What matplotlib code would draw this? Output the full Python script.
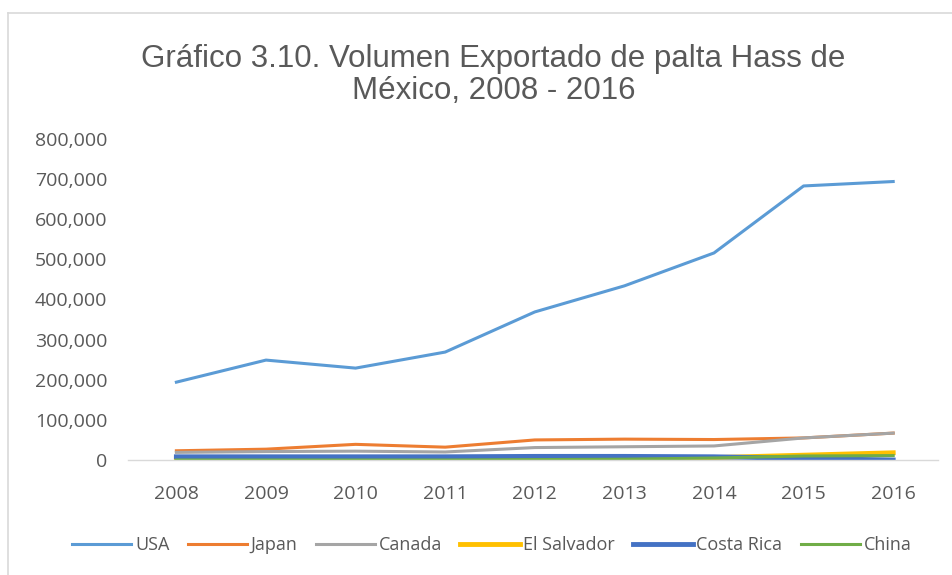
import matplotlib.pyplot as plt
from matplotlib.lines import Line2D
from matplotlib.ticker import FuncFormatter

years = ['2008', '2009', '2010', '2011', '2012', '2013', '2014', '2015', '2016']
usa = [194000, 249000, 229000, 269000, 369000, 434000, 516000, 683000, 694000]
japan = [23000, 27000, 39000, 32000, 50000, 52000, 51000, 55000, 67000]
canada = [19000, 21000, 22000, 20000, 31000, 33000, 35000, 55000, 67000]
el_salvador = [4000, 4000, 4000, 4000, 4000, 5000, 6000, 12000, 18000]
costa_rica = [8000, 8000, 8000, 8000, 9000, 9000, 8000, 4000, 0]
china = [0, 0, 0, 0, 1000, 2000, 5000, 10000, 11000]

plt.rcParams['font.family'] = ['Open Sans', 'DejaVu Sans']
grey = '#595959'

W, H = 953, 575
fig = plt.figure(figsize=(W / 100, H / 100), dpi=100)
ax = fig.add_axes([128 / W, 1 - 460 / H, (938 - 128) / W, (460 - 139) / H])

x = range(len(years))
ax.plot(x, usa, color='#5B9BD5', lw=2.2, label='USA')
ax.plot(x, japan, color='#ED7D31', lw=2.2, label='Japan')
ax.plot(x, canada, color='#A5A5A5', lw=2.2, label='Canada')
ax.plot(x, el_salvador, color='#FFC000', lw=3.5, label='El Salvador')
ax.plot(x, costa_rica, color='#4472C4', lw=3.5, label='Costa Rica')
ax.plot(x, china, color='#70AD47', lw=2.2, label='China')

ax.set_xlim(-0.54, 8.5)
ax.set_ylim(0, 800000)
ax.set_yticks(range(0, 800001, 100000))
ax.yaxis.set_major_formatter(FuncFormatter(lambda v, p: f'{int(v):,}'))
ax.set_xticks(list(x))
ax.set_xticklabels(years)
for s in ['top', 'right', 'left']:
    ax.spines[s].set_visible(False)
ax.spines['bottom'].set_color('#D9D9D9')
ax.spines['bottom'].set_linewidth(1)
ax.tick_params(length=0, labelsize=14, colors=grey)
ax.tick_params(axis='y', pad=15)
ax.tick_params(axis='x', pad=18)

fig.text(0.518, 1 - 75 / H, 'Gráfico 3.10. Volumen Exportado de palta Hass de\nMéxico, 2008 - 2016',
         ha='center', va='center', fontsize=22.5, color=grey, family='Liberation Sans',
         linespacing=1.08)

fig.legend(loc='center', bbox_to_anchor=(0.516, 1 - 545 / H), ncol=6, frameon=False,
           fontsize=13, labelcolor=grey, handlelength=3.3, handletextpad=0.2,
           columnspacing=1.0)

# chart frame (only the top and left edges fall inside the picture)
fig.add_artist(Line2D([8 / W, 8 / W], [0, 1 - 13 / H], transform=fig.transFigure,
                      color='#D9D9D9', lw=1.2))
fig.add_artist(Line2D([8 / W, 1], [1 - 13 / H, 1 - 13 / H], transform=fig.transFigure,
                      color='#D9D9D9', lw=1.2))
fig.savefig('out.png', dpi=100)
